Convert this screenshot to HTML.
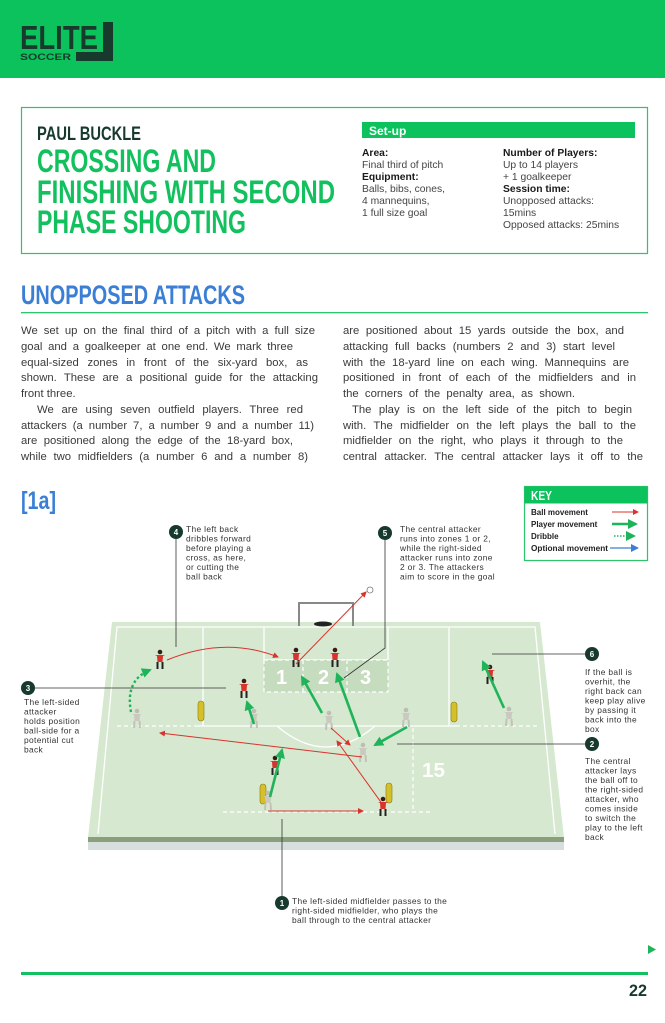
<!DOCTYPE html>
<html><head><meta charset="utf-8"><style>
html,body{margin:0;padding:0;background:#fff;}
body{position:relative;width:665px;height:1023px;overflow:hidden;}
svg{display:block;position:absolute;left:0;top:0;}
.t{position:absolute;font-family:"Liberation Sans",Arial,sans-serif;font-size:11.3px;line-height:12px;color:#3a3a3a;white-space:nowrap;}
.j{text-align:justify;text-align-last:justify;}
</style></head><body>
<svg width="665" height="1023" viewBox="0 0 665 1023" xmlns="http://www.w3.org/2000/svg" font-family="Liberation Sans, sans-serif">
<defs>
<marker id="ar" markerWidth="6" markerHeight="6" refX="5" refY="3" orient="auto" markerUnits="userSpaceOnUse"><path d="M0,0 L6,3 L0,6 Z" fill="#d9332e"/></marker>
<marker id="ag" markerWidth="10" markerHeight="10" refX="8" refY="5" orient="auto" markerUnits="userSpaceOnUse"><path d="M0,0 L10,5 L0,10 Z" fill="#1fb35a"/></marker>
<marker id="ab" markerWidth="8" markerHeight="8" refX="7" refY="4" orient="auto" markerUnits="userSpaceOnUse"><path d="M0,0 L8,4 L0,8 Z" fill="#3a7fd5"/></marker>
<g id="pr"><circle cx="0" cy="-7" r="2.3" fill="#3a1a14"/><path d="M-5,-4 L5,-4 L3,-3 L2.5,3 L-2.5,3 L-3,-3 Z" fill="#d9332e"/><path d="M-2.5,3 L-2.5,10 M2.5,3 L2.5,10" stroke="#222" stroke-width="2"/></g>
<g id="pg"><circle cx="0" cy="-7" r="2.3" fill="#bdbdb4"/><path d="M-5,-4 L5,-4 L3,-3 L2.5,3 L-2.5,3 L-3,-3 Z" fill="#c9c9c0"/><path d="M-2.5,3 L-3,10 M2.5,3 L3,10" stroke="#c2c2ba" stroke-width="2"/></g>
<g id="mq"><rect x="-3" y="-10" width="6" height="20" rx="3" fill="#d6c02a" stroke="#8a7a10" stroke-width="0.6"/></g>
</defs>

<rect x="0" y="0" width="665" height="78" fill="#0cc25c"/>
<text x="20" y="49" font-weight="bold" font-size="33" fill="#173a2c" textLength="78" lengthAdjust="spacingAndGlyphs">ELITE</text>
<rect x="103" y="22" width="10" height="39" fill="#173a2c"/>
<rect x="76" y="52" width="37" height="9" fill="#173a2c"/>
<text x="20" y="60" font-weight="bold" font-size="9" fill="#173a2c" textLength="51" lengthAdjust="spacingAndGlyphs">SOCCER</text>

<rect x="21.5" y="107.5" width="626" height="146" fill="none" stroke="#2ec46d" stroke-width="1.2"/>
<text x="37" y="140" font-weight="bold" font-size="19" fill="#173a2c" textLength="104" lengthAdjust="spacingAndGlyphs">PAUL BUCKLE</text>
<text x="37" y="172" font-weight="bold" font-size="32" fill="#12c15e" textLength="179" lengthAdjust="spacingAndGlyphs">CROSSING AND</text>
<text x="37" y="203" font-weight="bold" font-size="32" fill="#12c15e" textLength="298" lengthAdjust="spacingAndGlyphs">FINISHING WITH SECOND</text>
<text x="37" y="233" font-weight="bold" font-size="32" fill="#12c15e" textLength="209" lengthAdjust="spacingAndGlyphs">PHASE SHOOTING</text>
<rect x="362" y="122" width="273" height="16" fill="#0cc25c"/>
<text x="369" y="135" font-weight="bold" font-size="12" fill="#fff">Set-up</text>
<g font-size="10.3">
<text x="362" y="156" font-weight="bold" fill="#1a1a1a">Area:</text>
<text x="362" y="168" fill="#444">Final third of pitch</text>
<text x="362" y="180" font-weight="bold" fill="#1a1a1a">Equipment:</text>
<text x="362" y="192" fill="#444">Balls, bibs, cones,</text>
<text x="362" y="204" fill="#444">4 mannequins,</text>
<text x="362" y="216" fill="#444">1 full size goal</text>
<text x="503" y="156" font-weight="bold" fill="#1a1a1a">Number of Players:</text>
<text x="503" y="168" fill="#444">Up to 14 players</text>
<text x="503" y="180" fill="#444">+ 1 goalkeeper</text>
<text x="503" y="192" font-weight="bold" fill="#1a1a1a">Session time:</text>
<text x="503" y="204" fill="#444">Unopposed attacks:</text>
<text x="503" y="216" fill="#444">15mins</text>
<text x="503" y="228" fill="#444">Opposed attacks: 25mins</text>
</g>

<text x="21" y="304" font-weight="bold" font-size="27" fill="#3a7fd5" textLength="224" lengthAdjust="spacingAndGlyphs">UNOPPOSED ATTACKS</text>
<rect x="21" y="312" width="627" height="1.3" fill="#2ec46d"/>

<text x="21" y="509" font-weight="bold" font-size="25" fill="#3a7fd5" textLength="35" lengthAdjust="spacingAndGlyphs">[1a]</text>

<rect x="524.5" y="486.5" width="123" height="74" fill="#fff" stroke="#2ec46d" stroke-width="1.2"/>
<rect x="524.5" y="486.5" width="123" height="17" fill="#0cc25c"/>
<text x="531" y="500" font-weight="bold" font-size="13" fill="#fff" textLength="21" lengthAdjust="spacingAndGlyphs">KEY</text>
<g font-size="8" font-weight="bold" fill="#222">
<text x="531" y="515">Ball movement</text>
<text x="531" y="527">Player movement</text>
<text x="531" y="539">Dribble</text>
<text x="531" y="551" textLength="77" lengthAdjust="spacingAndGlyphs">Optional movement</text>
</g>
<line x1="612" y1="512" x2="638" y2="512" stroke="#d9332e" stroke-width="1" marker-end="url(#ar)"/>
<line x1="612" y1="524" x2="636" y2="524" stroke="#1fb35a" stroke-width="2.5" marker-end="url(#ag)"/>
<line x1="614" y1="536" x2="634" y2="536" stroke="#1fb35a" stroke-width="1.5" stroke-dasharray="1.5,1.5" marker-end="url(#ag)"/>
<line x1="610" y1="548" x2="638" y2="548" stroke="#3a7fd5" stroke-width="1.2" marker-end="url(#ab)"/>

<polygon points="88,842 564,842 564,850 88,850" fill="#d7dede"/>
<polygon points="112,622 540,622 564,838 88,838" fill="#d6e8cf"/>
<rect x="88" y="837" width="476" height="5" fill="#8aa07c"/>
<g stroke="#fff" stroke-width="1.3" fill="none">
<polyline points="98,834 117,627 535,627 555,834"/>
<line x1="203" y1="627" x2="203" y2="726"/>
<line x1="449" y1="627" x2="449" y2="726"/>
<line x1="264" y1="627" x2="264" y2="660"/>
<line x1="388" y1="627" x2="388" y2="660"/>
<line x1="264" y1="660" x2="388" y2="660"/>
<line x1="197" y1="726" x2="456" y2="726"/>
<path d="M277,726 Q326,768 375,726"/>
</g>
<rect x="264" y="660" width="124" height="32" fill="#c6dcbf"/>
<g stroke="#fff" stroke-width="1.2" fill="none" stroke-dasharray="4,3">
<rect x="264" y="660" width="124" height="32"/>
<line x1="303" y1="660" x2="303" y2="692"/>
<line x1="347" y1="660" x2="347" y2="692"/>
<line x1="117" y1="726" x2="197" y2="726"/>
<line x1="456" y1="726" x2="537" y2="726"/>
<line x1="223" y1="812" x2="430" y2="812"/>
<line x1="413" y1="728" x2="413" y2="812"/>
</g>
<g font-weight="bold" fill="#fff" font-size="20">
<text x="276" y="684">1</text><text x="318" y="684">2</text><text x="360" y="684">3</text>
<text x="422" y="777" textLength="23" lengthAdjust="spacingAndGlyphs">15</text>
</g>
<polyline points="299,626 299,603 353,603 353,626" fill="none" stroke="#888" stroke-width="2"/>
<ellipse cx="323" cy="624" rx="9" ry="2.5" fill="#222"/>
<circle cx="370" cy="590" r="3" fill="#fff" stroke="#777" stroke-width="0.8"/>

<use href="#mq" x="201" y="711"/><use href="#mq" x="454" y="712"/>
<use href="#mq" x="263" y="794"/><use href="#mq" x="389" y="793"/>

<use href="#pg" x="137" y="718"/><use href="#pg" x="254" y="718"/><use href="#pg" x="329" y="720"/>
<use href="#pg" x="363" y="752"/><use href="#pg" x="406" y="717"/><use href="#pg" x="509" y="716"/>
<use href="#pg" x="268" y="800"/>
<use href="#pr" x="160" y="659"/><use href="#pr" x="296" y="657"/><use href="#pr" x="335" y="657"/>
<use href="#pr" x="244" y="688"/><use href="#pr" x="490" y="674"/><use href="#pr" x="275" y="765"/>
<use href="#pr" x="383" y="806"/>

<g stroke="#d9332e" stroke-width="1" fill="none" marker-end="url(#ar)">
<path d="M167,660 Q225,636 278,657"/>
<line x1="296" y1="664" x2="366" y2="592"/>
<line x1="362" y1="757" x2="160" y2="733"/>
<line x1="331" y1="728" x2="350" y2="745"/>
<line x1="383" y1="805" x2="337" y2="741"/>
<line x1="268" y1="811" x2="363" y2="811"/>
</g>
<g stroke="#1fb35a" stroke-width="2.6" fill="none" marker-end="url(#ag)">
<line x1="322" y1="713" x2="302" y2="677"/>
<line x1="360" y1="737" x2="337" y2="674"/>
<line x1="407" y1="727" x2="375" y2="745"/>
<line x1="270" y1="797" x2="282" y2="750"/>
<line x1="254" y1="724" x2="247" y2="702"/>
<line x1="504" y1="708" x2="483" y2="662"/>
</g>
<path d="M131,712 Q125,680 150,670" stroke="#1fb35a" stroke-width="2.4" fill="none" stroke-dasharray="2.5,2.5" marker-end="url(#ag)"/>

<g stroke="#333" stroke-width="0.8" fill="none">
<line x1="176" y1="532" x2="176" y2="647"/>
<polyline points="385,533 385,648 344,678"/>
<line x1="28" y1="688" x2="226" y2="688"/>
<line x1="592" y1="654" x2="492" y2="654"/>
<line x1="592" y1="744" x2="397" y2="744"/>
<line x1="282" y1="903" x2="282" y2="819"/>
</g>
<g fill="#173a2c">
<circle cx="176" cy="532" r="7"/><circle cx="385" cy="533" r="7"/><circle cx="28" cy="688" r="7"/>
<circle cx="592" cy="654" r="7"/><circle cx="592" cy="744" r="7"/><circle cx="282" cy="903" r="7"/>
</g>
<g font-size="8" font-weight="bold" fill="#fff" text-anchor="middle">
<text x="176" y="535">4</text><text x="385" y="536">5</text><text x="28" y="691">3</text>
<text x="592" y="657">6</text><text x="592" y="747">2</text><text x="282" y="906">1</text>
</g>
<g font-size="8.4" fill="#333" letter-spacing="0.35">
<text x="186" y="532">The left back</text><text x="186" y="541.5">dribbles forward</text><text x="186" y="551">before playing a</text><text x="186" y="560.5">cross, as here,</text><text x="186" y="570">or cutting the</text><text x="186" y="579.5">ball back</text>
<text x="400" y="532">The central attacker</text><text x="400" y="541.5">runs into zones 1 or 2,</text><text x="400" y="551">while the right-sided</text><text x="400" y="560.5">attacker runs into zone</text><text x="400" y="570">2 or 3. The attackers</text><text x="400" y="579.5">aim to score in the goal</text>
<text x="24" y="705">The left-sided</text><text x="24" y="714.5">attacker</text><text x="24" y="724">holds position</text><text x="24" y="733.5">ball-side for a</text><text x="24" y="743">potential cut</text><text x="24" y="752.5">back</text>
<text x="585" y="675">If the ball is</text><text x="585" y="684.5">overhit, the</text><text x="585" y="694">right back can</text><text x="585" y="703.5">keep play alive</text><text x="585" y="713">by passing it</text><text x="585" y="722.5">back into the</text><text x="585" y="732">box</text>
<text x="585" y="764">The central</text><text x="585" y="773.5">attacker lays</text><text x="585" y="783">the ball off to</text><text x="585" y="792.5">the right-sided</text><text x="585" y="802">attacker, who</text><text x="585" y="811.5">comes inside</text><text x="585" y="821">to switch the</text><text x="585" y="830.5">play to the left</text><text x="585" y="840">back</text>
<text x="292" y="904">The left-sided midfielder passes to the</text><text x="292" y="913.5">right-sided midfielder, who plays the</text><text x="292" y="923">ball through to the central attacker</text>
</g>

<polygon points="648,945 656,949.5 648,954" fill="#1fb35a"/>
<rect x="21" y="972" width="627" height="3" fill="#12c15e"/>
<text x="647" y="996" font-weight="bold" font-size="17" fill="#173a2c" text-anchor="end" textLength="18" lengthAdjust="spacingAndGlyphs">22</text>
</svg>

<div class="t j" style="left:21px;top:325px;width:294px">We set up on the final third of a pitch with a full size</div>
<div class="t j" style="left:21px;top:341px;width:272px">goal and a goalkeeper at one end. We mark three</div>
<div class="t j" style="left:21px;top:357px;width:287px">equal-sized zones in front of the six-yard box, as</div>
<div class="t j" style="left:21px;top:372px;width:297px">shown. These are a positional guide for the attacking</div>
<div class="t" style="left:21px;top:388px">front three.</div>
<div class="t j" style="left:37px;top:404px;width:266px">We are using seven outfield players. Three red</div>
<div class="t j" style="left:21px;top:420px;width:293px">attackers (a number 7, a number 9 and a number 11)</div>
<div class="t j" style="left:21px;top:435px;width:272px">are positioned along the edge of the 18-yard box,</div>
<div class="t j" style="left:21px;top:451px;width:287px">while two midfielders (a number 6 and a number 8)</div>
<div class="t j" style="left:343px;top:325px;width:281px">are positioned about 15 yards outside the box, and</div>
<div class="t j" style="left:343px;top:341px;width:272px">attacking full backs (numbers 2 and 3) start level</div>
<div class="t j" style="left:343px;top:357px;width:286px">with the 18-yard line on each wing. Mannequins are</div>
<div class="t j" style="left:343px;top:372px;width:293px">positioned in front of each of the midfielders and in</div>
<div class="t j" style="left:343px;top:388px;width:232px">the corners of the penalty area, as shown.</div>
<div class="t j" style="left:352px;top:404px;width:280px">The play is on the left side of the pitch to begin</div>
<div class="t j" style="left:343px;top:420px;width:293px">with. The midfielder on the left plays the ball to the</div>
<div class="t j" style="left:343px;top:435px;width:280px">midfielder on the right, who plays it through to the</div>
<div class="t j" style="left:343px;top:451px;width:300px">central attacker. The central attacker lays it off to the</div>
</body></html>
